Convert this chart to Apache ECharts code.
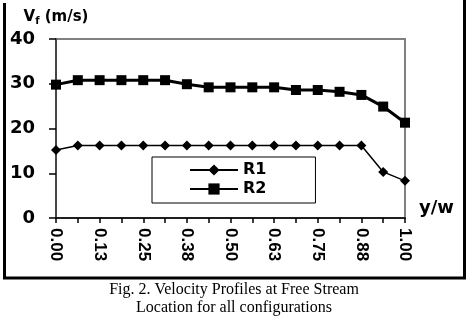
<!DOCTYPE html>
<html>
<head>
<meta charset="utf-8">
<script src="https://cdn.jsdelivr.net/npm/echarts@6/dist/echarts.min.js"></script>
<style>html,body{margin:0;padding:0;background:#fff}#c{width:468px;height:316px}</style>
</head>
<body>
<div id="c"></div>
<script>
var categories = ['0.00','0.06','0.13','0.19','0.25','0.31','0.38','0.44','0.50','0.56','0.63','0.69','0.75','0.81','0.88','0.94','1.00'];
var r1 = [15.2, 16.2, 16.2, 16.2, 16.2, 16.2, 16.2, 16.2, 16.2, 16.2, 16.2, 16.2, 16.2, 16.2, 16.2, 10.3, 8.3];
var r2 = [29.8, 30.8, 30.8, 30.8, 30.8, 30.8, 29.9, 29.2, 29.2, 29.2, 29.2, 28.6, 28.6, 28.2, 27.5, 24.9, 21.3];
var yTicks = { min: 0, max: 40, interval: 10 };
var seriesNames = ['R1', 'R2'];
var captionLines = ['Fig. 2. Velocity Profiles at Free Stream', 'Location for all configurations'];

var chart = echarts.init(document.getElementById('c'), null, { renderer: 'canvas' });
chart.setOption({
  animation: false,
  backgroundColor: '#fff',
  title: [
    {
      text: captionLines[0], left: 'center', top: 282, padding: 0,
      textStyle: { fontFamily: 'Liberation Serif', fontSize: 16, fontWeight: 'normal', color: '#000' }
    },
    {
      text: captionLines[1], left: 'center', top: 300, padding: 0,
      textStyle: { fontFamily: 'Liberation Serif', fontSize: 16, fontWeight: 'normal', color: '#000' }
    }
  ],
  grid: { left: 56, right: 63, top: 39, bottom: 98, show: true, borderColor: '#808080', borderWidth: 2, backgroundColor: 'transparent' },
  legend: {
    orient: 'vertical',
    left: 152,
    top: 157,
    padding: [5, 49, 6, 37],
    borderColor: '#000',
    borderWidth: 1,
    itemWidth: 48,
    itemHeight: 14,
    itemGap: 3,
    data: seriesNames,
    textStyle: { fontFamily: 'DejaVu Sans', fontWeight: 'bold', fontSize: 16, color: '#000' }
  },
  xAxis: {
    type: 'category',
    data: categories,
    boundaryGap: false,
    name: 'y/w',
    nameLocation: 'end',
    nameGap: 14,
    nameTextStyle: { fontFamily: 'DejaVu Sans', fontWeight: 'bold', fontSize: 18, color: '#000', verticalAlign: 'bottom', padding: [0, 0, 1, 0] },
    axisLine: { lineStyle: { color: '#000', width: 1.5 } },
    axisTick: { show: true, interval: 0, length: 5, lineStyle: { color: '#000', width: 1.5 } },
    axisLabel: { interval: 1, rotate: -90, margin: 10, fontFamily: 'Liberation Sans', fontWeight: 'bold', fontSize: 17, color: '#000' },
    splitLine: { show: false }
  },
  yAxis: {
    type: 'value',
    min: yTicks.min,
    max: yTicks.max,
    interval: yTicks.interval,
    name: 'V{sub|f} (m/s)',
    nameLocation: 'end',
    nameGap: 13,
    nameTextStyle: {
      fontFamily: 'DejaVu Sans', fontWeight: 'bold', fontSize: 15, color: '#000',
      rich: { sub: { fontFamily: 'DejaVu Sans', fontWeight: 'bold', fontSize: 10, color: '#000', verticalAlign: 'bottom', padding: [7, 0, 0, 0] } }
    },
    axisLine: { show: true, lineStyle: { color: '#333', width: 1.5 } },
    axisTick: { show: true, length: 7, lineStyle: { color: '#000', width: 1.5 } },
    axisLabel: { margin: 21, fontFamily: 'DejaVu Sans', fontWeight: 'bold', fontSize: 18, color: '#000' },
    splitLine: { show: false }
  },
  series: [
    {
      name: seriesNames[0],
      type: 'line',
      data: r1,
      symbol: 'diamond',
      symbolSize: 10,
      lineStyle: { color: '#000', width: 1.5 },
      itemStyle: { color: '#000' },
      z: 3
    },
    {
      name: seriesNames[1],
      type: 'line',
      data: r2,
      symbol: 'rect',
      symbolSize: 10,
      lineStyle: { color: '#000', width: 3 },
      itemStyle: { color: '#000' },
      z: 3
    }
  ],
  graphic: [
    {
      type: 'polyline',
      shape: { points: [[4.5, 3], [4.5, 278], [464.5, 278], [464.5, 0]] },
      style: { stroke: '#000', lineWidth: 3, fill: null },
      silent: true
    }
  ]
});
</script>
</body>
</html>
